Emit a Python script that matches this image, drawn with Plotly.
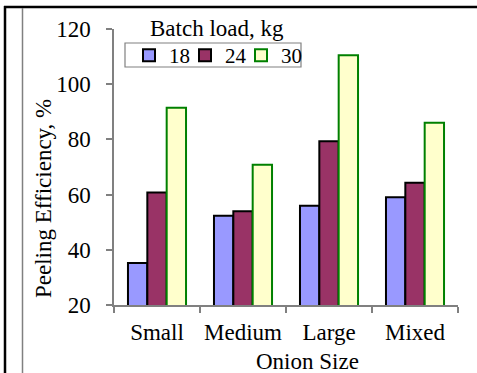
import plotly.graph_objects as go

categories = ["Small", "Medium", "Large", "Mixed"]
series_names = ["18", "24", "30"]
load_18 = [35.2, 52.3, 56.0, 59.0]
load_24 = [60.8, 54.0, 79.3, 64.3]
load_30 = [91.5, 70.8, 110.5, 86.0]
y_ticks = [20, 40, 60, 80, 100, 120]

fills = ["#9999FF", "#993366", "#FFFFCC"]
edges = ["#000000", "#000000", "#008000"]

W, H = 477, 373
L, R, T, B = 114, 19, 29, 68
PW, PH = W - L - R, H - T - B

def px(x):
    return (x - L) / PW

def py(y):
    return (H - B - y) / PH

FONT = "Liberation Serif"
FS = 23

fig = go.Figure()
for name, vals, fc, ec in zip(series_names, [load_18, load_24, load_30], fills, edges):
    fig.add_trace(go.Bar(
        x=categories, y=vals, name=name,
        marker=dict(color=fc, line=dict(color=ec, width=2)),
    ))
# invisible spacer entry so the last legend label is not clipped
fig.add_trace(go.Scatter(x=[None], y=[None], mode="markers", name=" ",
                         marker=dict(color="rgba(0,0,0,0)", size=1),
                         hoverinfo="skip"))

fig.update_layout(
    width=W, height=H,
    margin=dict(l=L, r=R, t=T, b=B, pad=0, autoexpand=False),
    paper_bgcolor="white", plot_bgcolor="white",
    barmode="group", bargap=0.325, bargroupgap=0,
    font=dict(family=FONT, size=FS, color="black"),
    showlegend=True,
    legend=dict(
        orientation="h", x=px(129), y=py(35), xanchor="left", yanchor="top",
        borderwidth=0, bgcolor="rgba(0,0,0,0)",
        font=dict(family=FONT, size=21, color="black"),
        itemwidth=30, tracegroupgap=0,
        entrywidth=11, entrywidthmode="pixels",
    ),
    xaxis=dict(
        showline=True, linecolor="#808080", linewidth=1.5,
        ticks="outside", ticklen=6, tickcolor="#808080", tickwidth=1.5,
        tickson="boundaries", showgrid=False, ticklabelstandoff=6,
        tickangle=0, automargin=False,
        tickfont=dict(family=FONT, size=FS, color="black"),
    ),
    yaxis=dict(
        range=[20, 120], tickvals=y_ticks,
        showline=True, linecolor="#808080", linewidth=1.5,
        ticks="outside", ticklen=6, tickcolor="#808080", tickwidth=1.5,
        showgrid=False, zeroline=False, ticklabelstandoff=11,
        automargin=False,
        tickfont=dict(family=FONT, size=FS, color="black"),
    ),
)

fig.add_annotation(text="Batch load, kg", xref="paper", yref="paper",
                   x=px(216.5), y=py(28.5), xanchor="center", yanchor="middle",
                   showarrow=False, font=dict(family=FONT, size=FS, color="black"))
fig.add_annotation(text="Peeling Efficiency, %", xref="paper", yref="paper",
                   x=px(43), y=py(199), xanchor="center", yanchor="middle",
                   textangle=-90, showarrow=False,
                   font=dict(family=FONT, size=FS, color="black"))
fig.add_annotation(text="Onion Size", xref="paper", yref="paper",
                   x=px(307), y=py(361), xanchor="center", yanchor="middle",
                   showarrow=False, font=dict(family=FONT, size=FS, color="black"))

# legend frame
fig.add_shape(type="rect", xref="paper", yref="paper", x0=px(125), x1=px(301),
              y0=py(43), y1=py(67), line=dict(color="#808080", width=1.2))

# outer frame decorations
fig.add_shape(type="line", xref="paper", yref="paper", x0=px(5), x1=px(5),
              y0=py(6), y1=py(380), line=dict(color="black", width=2.5))
fig.add_shape(type="line", xref="paper", yref="paper", x0=px(4), x1=px(485),
              y0=py(7), y1=py(7), line=dict(color="black", width=2.5))
fig.add_shape(type="line", xref="paper", yref="paper", x0=px(22.5), x1=px(22.5),
              y0=py(8), y1=py(380), line=dict(color="#808080", width=1.5))

fig.write_html("out.html")
